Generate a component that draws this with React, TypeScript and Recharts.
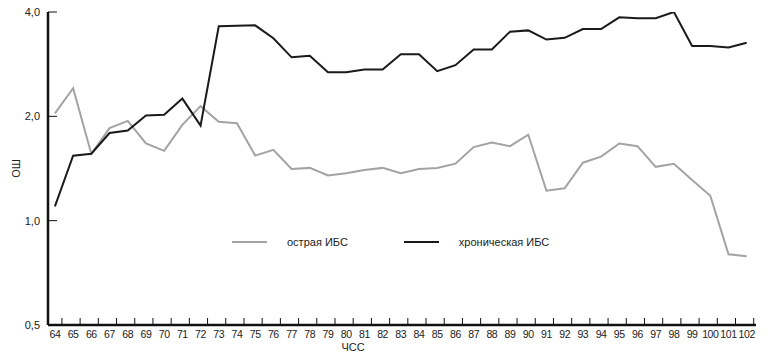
import { LineChart, Line, XAxis, YAxis, Legend } from 'recharts';

const heartRate = [
  64, 65, 66, 67, 68, 69, 70, 71, 72, 73, 74, 75, 76, 77, 78, 79, 80, 81, 82, 83,
  84, 85, 86, 87, 88, 89, 90, 91, 92, 93, 94, 95, 96, 97, 98, 99, 100, 101, 102,
];

const acute = [
  2.04, 2.41, 1.56, 1.85, 1.94, 1.67, 1.59, 1.89, 2.14, 1.93, 1.91, 1.54, 1.6, 1.41,
  1.42, 1.35, 1.37, 1.4, 1.42, 1.37, 1.41, 1.42, 1.46, 1.63, 1.68, 1.64, 1.77, 1.22,
  1.24, 1.47, 1.53, 1.67, 1.64, 1.43, 1.46, 1.31, 1.18, 0.8, 0.79,
];

const chronic = [
  1.1, 1.54, 1.56, 1.79, 1.82, 2.01, 2.02, 2.25, 1.88, 3.64, 3.65, 3.66, 3.36, 2.96,
  2.99, 2.68, 2.68, 2.73, 2.73, 3.02, 3.02, 2.7, 2.81, 3.12, 3.12, 3.51, 3.54, 3.33,
  3.37, 3.57, 3.57, 3.86, 3.84, 3.84, 4.0, 3.19, 3.19, 3.16, 3.26,
];

const yTicks = [0.5, 1, 2, 4];

const acuteName = 'острая ИБС';
const chronicName = 'хроническая ИБС';

const data = heartRate.map((hr, i) => ({ hr, acute: acute[i], chronic: chronic[i] }));

const font = '"Liberation Sans", Arial, sans-serif';
const textColor = '#222';

function XTick({ x, y, payload }: any) {
  return (
    <g>
      <text
        x={x}
        y={y + 13}
        textAnchor="middle"
        fontSize={10.5}
        letterSpacing={-0.4}
        fill={textColor}
        fontFamily={font}
      >
        {payload.value}
      </text>
      <line x1={x + 7} x2={x + 7} y1={y} y2={y - 7} stroke="#111" strokeWidth={1} />
    </g>
  );
}

function YTick({ x, y, payload }: any) {
  return (
    <g>
      <text x={x - 8} y={y + 4} textAnchor="end" fontSize={11} fill={textColor} fontFamily={font}>
        {payload.value.toFixed(1).replace('.', ',')}
      </text>
      <line x1={x} x2={x + 9} y1={y} y2={y} stroke="#111" strokeWidth={1} />
    </g>
  );
}

function LegendContent() {
  const item = (color: string, label: string, gap: number) => (
    <div style={{ display: 'flex', alignItems: 'center', marginRight: gap }}>
      <span style={{ width: 35, height: 2, background: color, display: 'inline-block', marginRight: 20 }} />
      <span>{label}</span>
    </div>
  );
  return (
    <div style={{ display: 'flex', fontFamily: font, fontSize: 11, color: textColor }}>
      {item('#a3a3a3', acuteName, 56)}
      {item('#1a1a1a', chronicName, 0)}
    </div>
  );
}

export default function App() {
  return (
    <div style={{ position: 'absolute', left: 0, top: 0, background: '#fff' }}>
      <LineChart width={772} height={364} data={data} margin={{ top: 12, right: 16, bottom: 9, left: 0 }}>
        <XAxis
          dataKey="hr"
          type="number"
          domain={[63.62, 102.51]}
          ticks={heartRate}
          interval={0}
          allowDataOverflow
          height={30}
          tickSize={0}
          tickMargin={0}
          tickLine={false}
          tick={<XTick />}
          axisLine={{ stroke: '#111', strokeWidth: 2.5 }}
          label={{ value: 'ЧСС', position: 'insideBottom', dx: -49, offset: 4, fontSize: 11, fill: textColor, fontFamily: font }}
        />
        <YAxis
          scale="log"
          domain={[0.5, 4]}
          ticks={yTicks}
          allowDataOverflow
          width={48}
          tickSize={0}
          tickMargin={0}
          tickLine={false}
          tick={<YTick />}
          axisLine={{ stroke: '#111', strokeWidth: 2.5 }}
          label={{ value: 'ОШ', angle: -90, position: 'center', dx: -8, fontSize: 11, fill: textColor, fontFamily: font }}
        />
        <Legend
          layout="horizontal"
          align="center"
          verticalAlign="middle"
          content={<LegendContent />}
          wrapperStyle={{ position: 'absolute', left: 232, top: 236, width: 400 }}
        />
        <Line
          type="linear"
          dataKey="acute"
          name={acuteName}
          stroke="#a3a3a3"
          strokeWidth={2}
          dot={false}
          isAnimationActive={false}
        />
        <Line
          type="linear"
          dataKey="chronic"
          name={chronicName}
          stroke="#1a1a1a"
          strokeWidth={2}
          dot={false}
          isAnimationActive={false}
        />
      </LineChart>
    </div>
  );
}
